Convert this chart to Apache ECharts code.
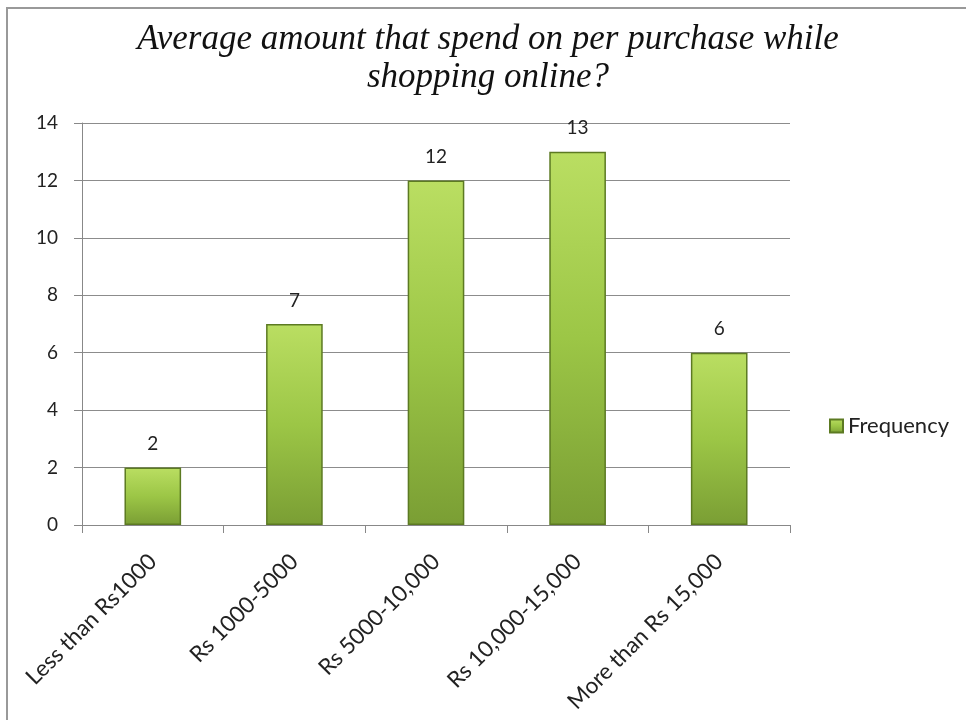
<!DOCTYPE html>
<html><head><meta charset="utf-8">
<script src="https://cdn.jsdelivr.net/npm/echarts@6/dist/echarts.min.js"></script>
<style>html,body{margin:0;padding:0;background:#fff}#c{width:966px;height:720px}</style>
</head><body><div id="c"></div>
<script>
const categories = ["Less than Rs1000", "Rs 1000-5000", "Rs 5000-10,000", "Rs 10,000-15,000", "More than Rs 15,000"];
const frequency = [2, 7, 12, 13, 6];
const seriesName = "Frequency";
const titleText = "Average amount that spend on per purchase while\nshopping online?";

const chart = echarts.init(document.getElementById('c'));
const barGrad = new echarts.graphic.LinearGradient(0, 0, 0, 1, [
  {offset: 0, color: '#bade62'}, {offset: 0.5, color: '#9cc646'}, {offset: 1, color: '#7a9e34'}
]);
chart.setOption({
  animation: false,
  backgroundColor: '#fff',
  graphic: [{type: 'rect', shape: {x: 7, y: 8, width: 1000, height: 800},
    style: {fill: 'none', stroke: '#999', lineWidth: 2}, z: 100}],
  title: {text: titleText, left: 483, top: 16, textAlign: 'center',
    textStyle: {fontFamily: 'Liberation Serif', fontStyle: 'italic', fontWeight: 'normal', fontSize: 35, lineHeight: 38, color: '#111'}},
  legend: {data: [seriesName], left: 824, top: 410, itemWidth: 13, itemHeight: 13, itemGap: 4,
    icon: 'rect', textStyle: {fontFamily: 'Lato', fontSize: 22, color: '#222', padding: [0,0,0,0]}},
  grid: {left: 82, right: 176, top: 123, bottom: 195, containLabel: false},
  xAxis: {type: 'category', data: categories,
    axisLine: {lineStyle: {color: '#888'}}, axisTick: {show: true, length: 8, alignWithLabel: false, lineStyle: {color: '#888'}},
    axisLabel: {rotate: 45, interval: 0, fontFamily: 'Lato', fontSize: 22.5, color: '#222', margin: 33}},
  yAxis: {type: 'value', min: 0, max: 14, interval: 2,
    axisLine: {show: true, lineStyle: {color: '#888'}}, axisTick: {show: true, length: 8, lineStyle: {color: '#888'}},
    splitLine: {lineStyle: {color: '#8c8c8c'}},
    axisLabel: {fontFamily: 'Lato', fontSize: 19, color: '#222', margin: 24}},
  series: [{name: seriesName, type: 'bar', data: frequency, barWidth: '40%',
    itemStyle: {color: barGrad, borderColor: '#5c7a22', borderWidth: 1.5},
    label: {show: true, position: 'top', distance: 14, fontFamily: 'Lato', fontSize: 19, color: '#222'}}]
});
</script></body></html>
